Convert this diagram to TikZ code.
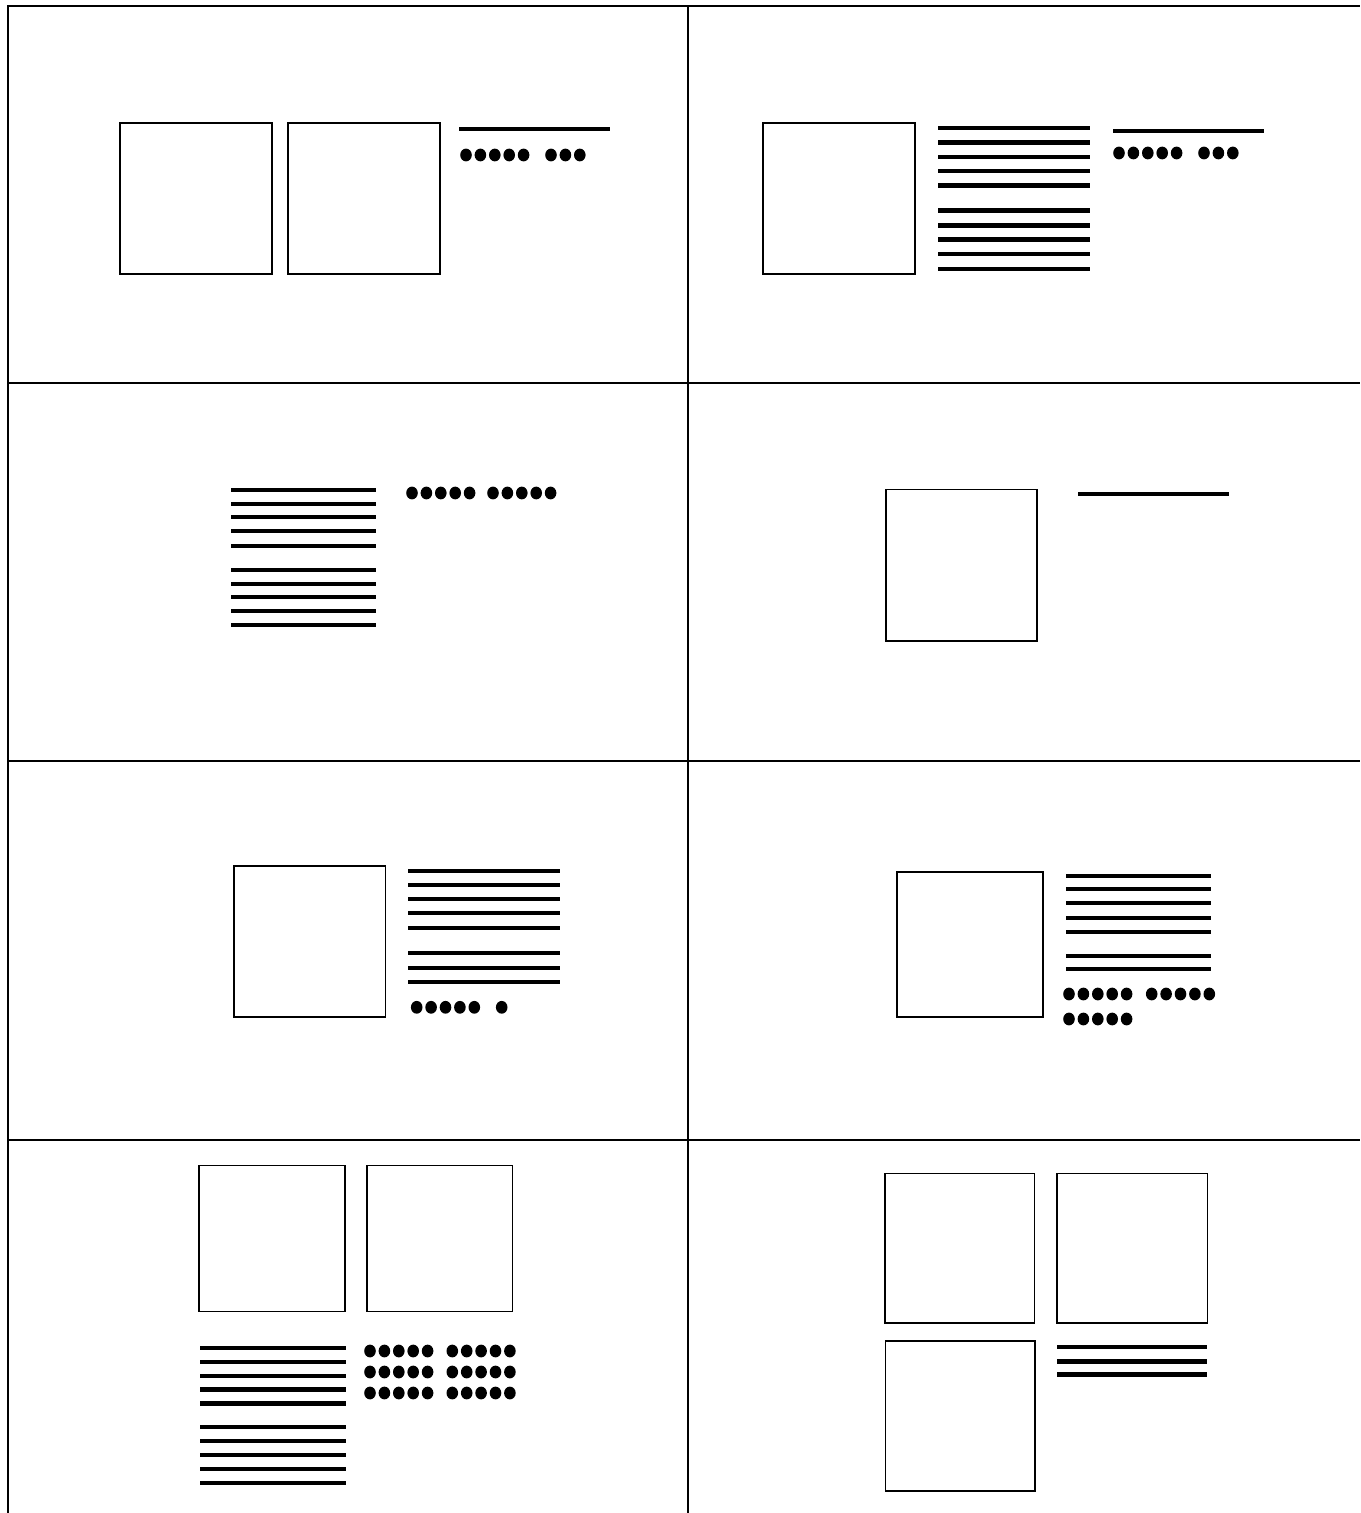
\documentclass[tikz,border=0pt]{standalone}
\usepackage{tikz}

\newcommand{\dotrun}[3]{\foreach \k in {1,...,#3} \fill (#1+14.4*\k-14.4,#2) ellipse [dotsize];}

\begin{document}
\begin{tikzpicture}[
    x=0.02cm, y=-0.02cm,
    cell/.style={draw, line width=1.1pt},
    img/.style={draw, line width=0.9pt},
    bar/.style={draw, line width=2.4pt},
    dotsize/.style={x radius=0.116cm, y radius=0.128cm}
  ]
  \useasboundingbox (0,0) rectangle (1360,1513);

  % Grid
  \draw[cell] (8,1513) -- (8,6) -- (1360,6);
  \draw[cell] (688,6) -- (688,1513);
  \foreach \yy in {383,761,1140} \draw[cell] (8,\yy) -- (1360,\yy);

  % Row 1, left
  \draw[img] (120,123) rectangle (272,274);
  \draw[img] (288,123) rectangle (440,274);
  \draw[bar] (459,129) -- (610,129);
  \dotrun{466}{155}{5} \dotrun{551}{155}{3}

  % Row 1, right
  \draw[img] (763,123) rectangle (915,274);
  \foreach \yy in {128,142.5,157,171,185.5,210.5,225.5,239.5,254,269}
    \draw[bar] (938,\yy) -- (1090,\yy);
  \draw[bar] (1113,131) -- (1264,131);
  \dotrun{1119}{153}{5} \dotrun{1204}{153}{3}

  % Row 2, left
  \foreach \yy in {490,503.7,517.3,531.3,545.7,569.7,583.7,597.3,611.3,625.3}
    \draw[bar] (231,\yy) -- (376,\yy);
  \dotrun{412}{493}{5} \dotrun{493}{493}{5}

  % Row 2, right
  \draw[img] (886,489.5) rectangle (1037,641);
  \draw[bar] (1078,494.3) -- (1229,494.3);

  % Row 3, left
  \draw[img] (234,866) rectangle (385.5,1017);
  \foreach \yy in {870.7,884.7,899.3,913.3,928.3,953.3,968,982.3}
    \draw[bar] (408,\yy) -- (559.5,\yy);
  \dotrun{416.7}{1007.3}{5} \dotrun{501.7}{1007.3}{1}

  % Row 3, right
  \draw[img] (897,872) rectangle (1043,1017);
  \foreach \yy in {875.7,889.3,903.3,917.7,931.7,955.7,969.3}
    \draw[bar] (1066,\yy) -- (1211,\yy);
  \dotrun{1069}{994}{5} \dotrun{1151.7}{994}{5}
  \dotrun{1069}{1019}{5}

  % Row 4, left
  \draw[img] (199,1165.5) rectangle (345,1311.5);
  \draw[img] (367,1165.5) rectangle (512.7,1311.5);
  \foreach \yy in {1347.7,1361.7,1375.7,1389.5,1403.5,1426.7,1441,1455,1469.3,1483.3}
    \draw[bar] (200,\yy) -- (345.5,\yy);
  \foreach \yy in {1351,1372,1393} {
    \dotrun{370}{\yy}{5} \dotrun{452.3}{\yy}{5}
  }

  % Row 4, right
  \draw[img] (885,1173.3) rectangle (1034.5,1322.7);
  \draw[img] (1057,1173.3) rectangle (1207.3,1322.7);
  \draw[img] (885.3,1341) rectangle (1034.7,1491);
  \foreach \yy in {1347.3,1361.5,1374.5}
    \draw[bar] (1057.3,\yy) -- (1206.7,\yy);
\end{tikzpicture}
\end{document}
